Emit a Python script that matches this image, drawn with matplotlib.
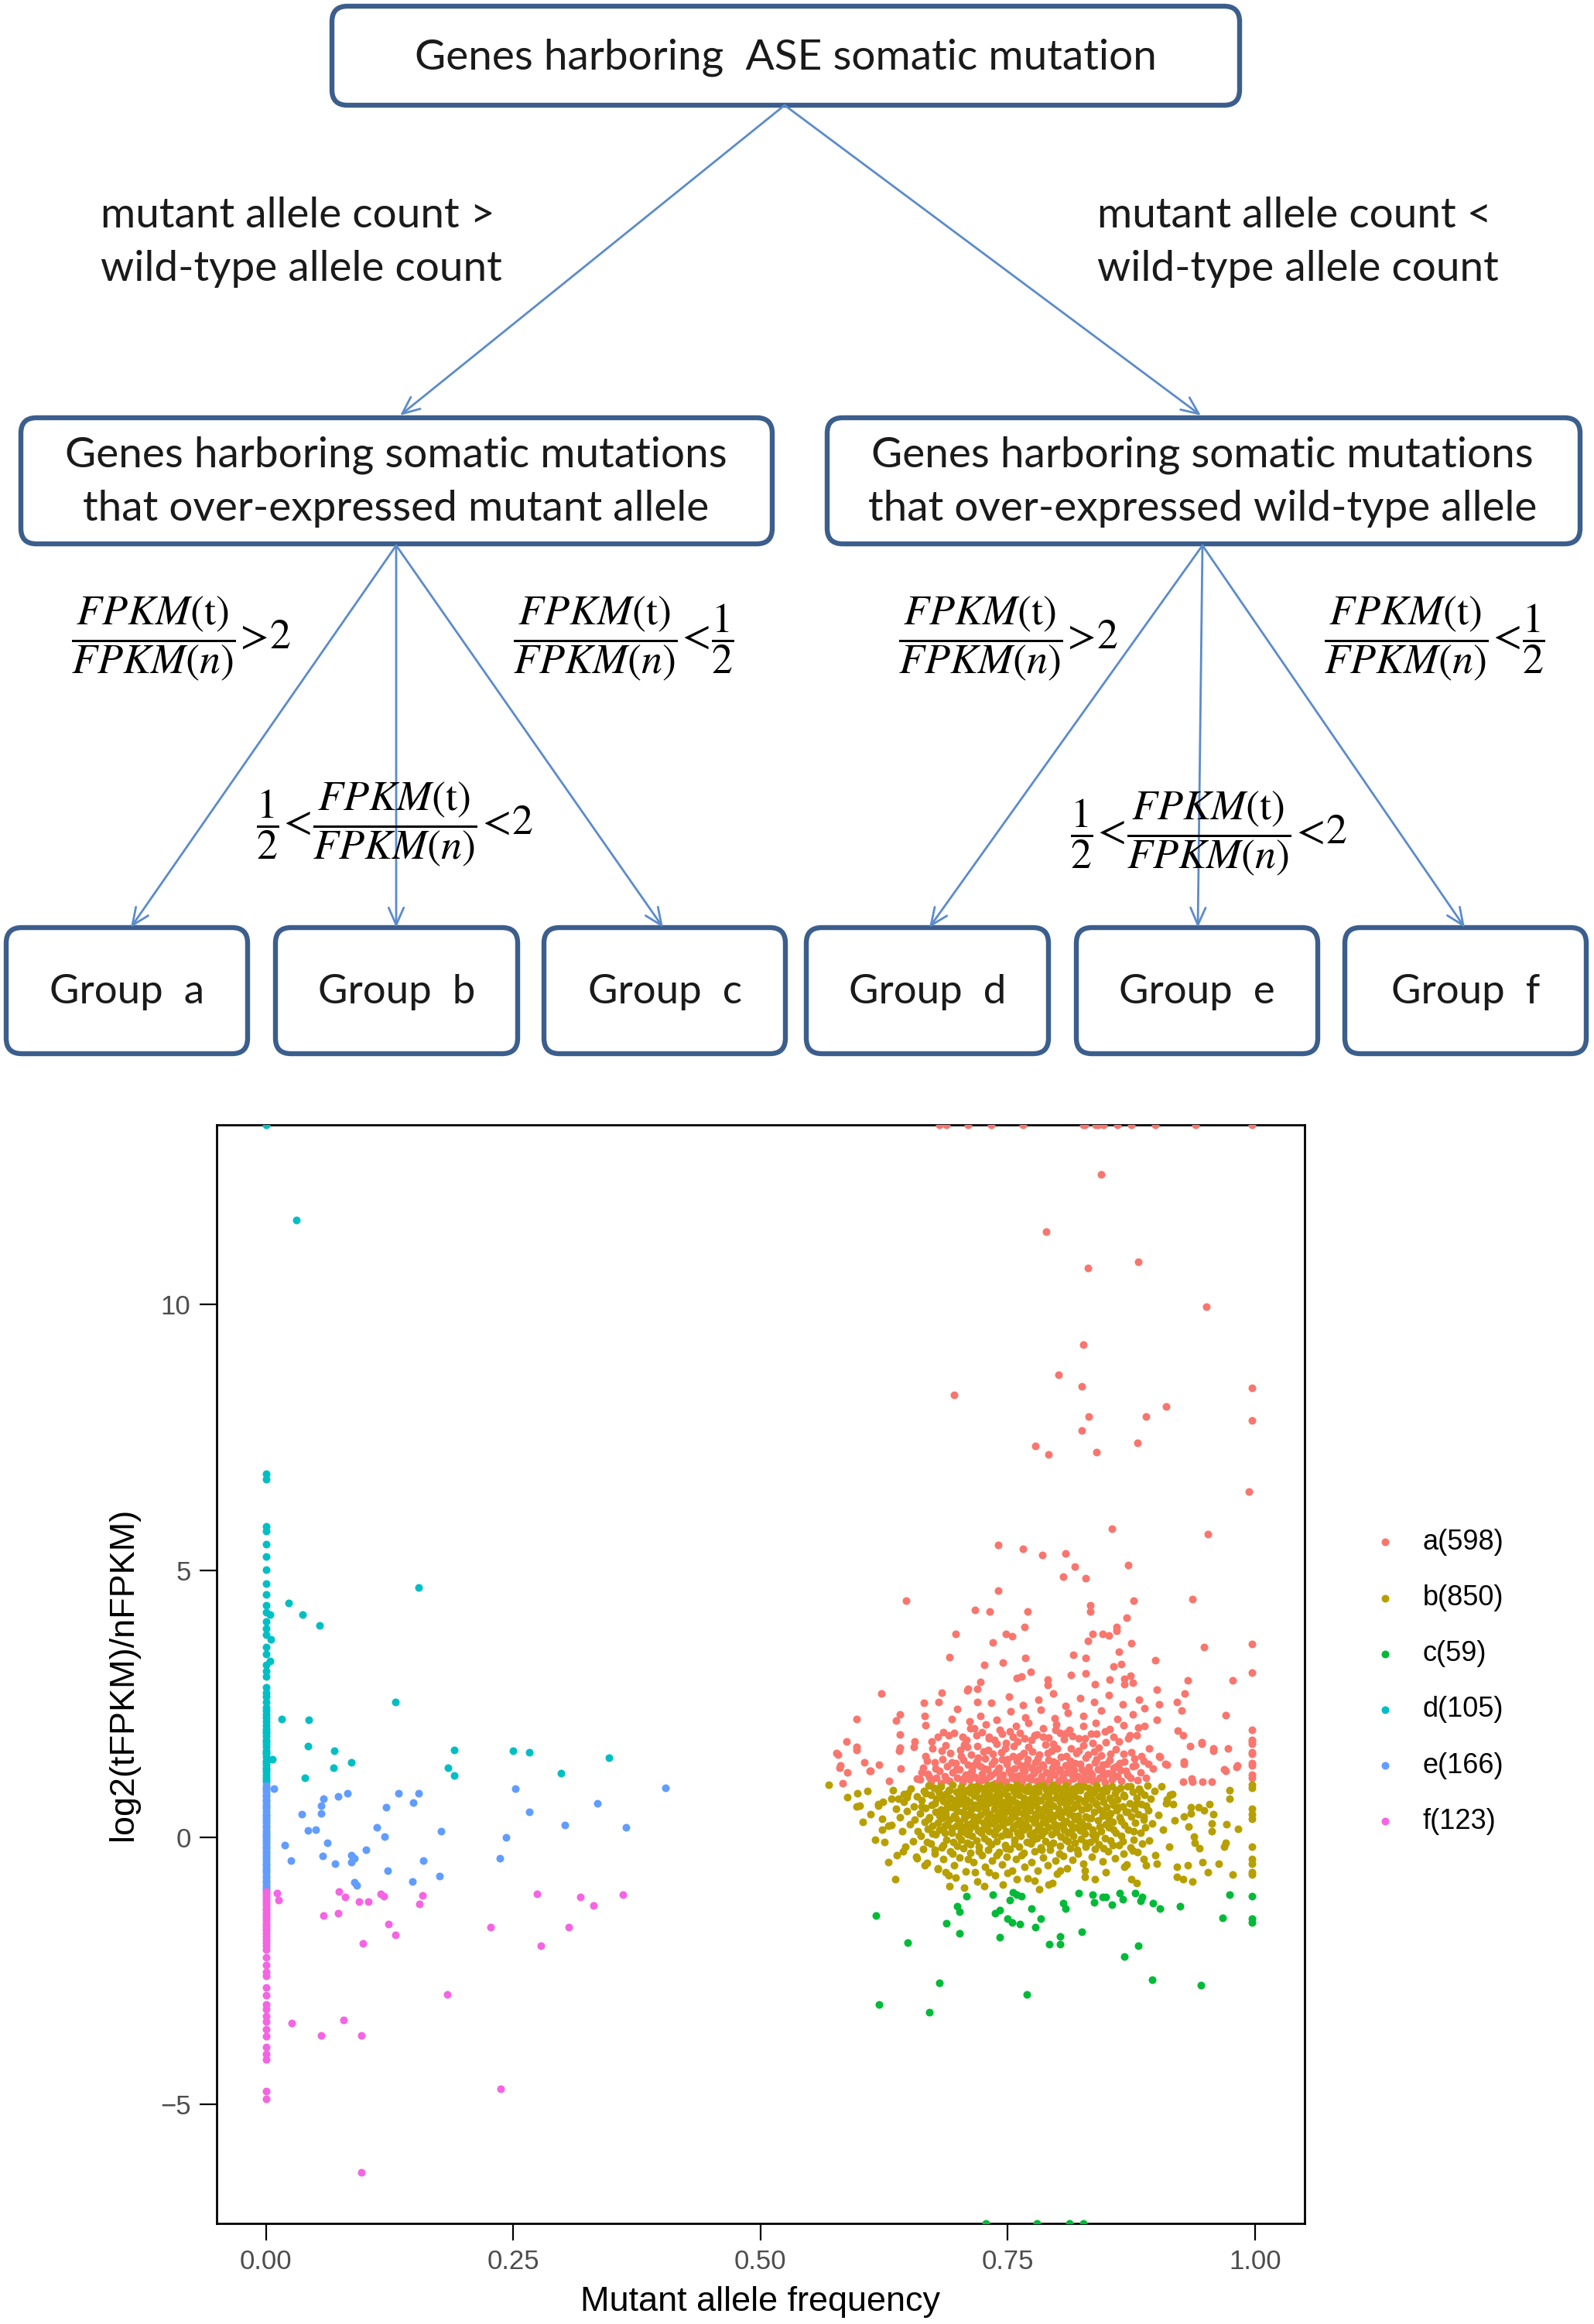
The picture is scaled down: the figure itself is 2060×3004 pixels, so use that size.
import numpy as np
import matplotlib.pyplot as plt
from matplotlib.patches import FancyBboxPatch

plt.rcParams['mathtext.fontset'] = 'stix'

INF = np.inf

groups = ['a', 'b', 'c', 'd', 'e', 'f']
counts = [598, 850, 59, 105, 166, 123]
colors = ['#F8766D', '#B79F00', '#00BA38', '#00BFC4', '#619CFF', '#F564E3']

x_ticks = [0.00, 0.25, 0.50, 0.75, 1.00]
y_ticks = [-5, 0, 5, 10]

# group a: mutant over-expressed, tumour/normal ratio > 2
a_inf_x = [0.681, 0.688, 0.710, 0.733, 0.765, 0.826, 0.828, 0.839, 0.841, 0.847,
           0.861, 0.875, 0.899, 0.940, 0.997]
a_sparse = [(0.844, 12.43), (0.789, 11.36), (0.831, 10.67), (0.882, 10.79), (0.951, 9.95),
            (0.826, 9.24), (0.801, 8.67), (0.696, 8.29), (0.825, 8.45), (0.832, 7.89),
            (0.890, 7.89), (0.910, 8.08), (0.997, 8.43), (0.997, 7.82), (0.825, 7.63),
            (0.778, 7.34), (0.791, 7.18), (0.840, 7.22), (0.881, 7.40), (0.994, 6.48),
            (0.855, 5.79), (0.952, 5.69), (0.740, 5.48), (0.765, 5.41), (0.785, 5.30),
            (0.808, 5.32), (0.818, 5.08), (0.872, 5.11), (0.806, 4.88), (0.829, 4.86),
            (0.740, 4.63), (0.647, 4.43), (0.877, 4.43), (0.937, 4.47), (0.717, 4.26),
            (0.732, 4.23), (0.770, 4.24), (0.833, 4.35), (0.833, 4.23), (0.767, 3.95),
            (0.697, 3.82), (0.748, 3.81), (0.754, 3.77), (0.836, 3.82), (0.846, 3.82),
            (0.852, 3.79), (0.860, 3.94), (0.860, 3.87), (0.870, 4.12), (0.831, 3.68),
            (0.735, 3.66), (0.875, 3.64), (0.997, 3.63), (0.948, 3.56), (0.691, 3.38),
            (0.768, 3.37), (0.816, 3.42), (0.829, 3.37), (0.862, 3.48), (0.899, 3.32),
            (0.726, 3.23), (0.745, 3.28), (0.857, 3.20), (0.865, 3.25), (0.773, 3.10),
            (0.814, 3.05), (0.829, 3.07), (0.997, 3.09), (0.759, 2.98), (0.764, 3.02),
            (0.790, 2.96), (0.853, 2.96), (0.868, 2.97), (0.874, 3.03), (0.876, 2.90),
            (0.868, 2.87), (0.790, 2.85), (0.932, 2.95), (0.977, 2.95), (0.722, 2.91),
            (0.719, 2.79), (0.710, 2.79), (0.838, 2.87), (0.622, 2.70)]
a_edge = [(0.597, 2.22), (0.587, 1.79), (0.578, 1.55), (0.580, 1.30), (0.588, 1.22),
          (0.597, 1.64), (0.605, 1.40), (0.610, 1.24), (0.620, 1.36), (0.637, 2.19),
          (0.641, 2.31), (0.641, 1.93), (0.640, 1.63), (0.656, 1.79), (0.665, 2.52),
          (0.666, 2.27), (0.667, 2.10), (0.680, 2.54), (0.683, 2.71), (0.685, 1.97),
          (0.693, 2.22), (0.699, 2.41), (0.709, 2.75), (0.711, 2.17), (0.719, 2.54),
          (0.901, 2.77), (0.903, 2.50), (0.921, 2.54), (0.926, 2.37), (0.929, 2.69),
          (0.922, 2.00), (0.927, 1.92), (0.934, 1.71), (0.946, 1.75), (0.958, 1.62),
          (0.970, 2.29), (0.973, 1.67), (0.981, 1.32), (0.970, 1.24), (0.997, 2.02),
          (0.997, 1.83), (0.997, 1.75), (0.997, 1.56), (0.997, 1.35), (0.997, 1.12),
          (0.888, 2.42), (0.888, 2.08), (0.901, 2.21), (0.904, 1.50), (0.911, 1.36),
          (0.928, 1.37), (0.937, 1.04), (0.577, 1.58), (0.581, 1.34), (0.583, 1.02),
          (0.597, 1.69), (0.611, 1.25), (0.630, 1.05), (0.641, 1.68), (0.642, 1.29),
          (0.655, 1.70), (0.658, 1.10), (0.928, 1.42), (0.936, 1.10), (0.946, 1.78),
          (0.947, 1.04), (0.956, 1.04), (0.958, 1.66), (0.969, 1.28), (0.982, 1.35),
          (0.997, 1.80), (0.997, 1.60), (0.997, 1.39), (0.997, 1.17), (0.909, 1.37),
          (0.903, 1.52), (0.927, 1.04)]
a_core = [(0.661, 1.08), (0.664, 1.31), (0.667, 1.52), (0.669, 1.19), (0.672, 1.04),
          (0.674, 1.66), (0.676, 1.41), (0.678, 1.12), (0.679, 1.88),
          (0.681, 1.24), (0.682, 1.02), (0.684, 1.47), (0.686, 1.15), (0.687, 1.73),
          (0.689, 1.33), (0.691, 1.06), (0.692, 1.58), (0.694, 1.21), (0.696, 1.95),
          (0.697, 1.39), (0.699, 1.11),
          (0.701, 1.28), (0.702, 1.64), (0.704, 1.03), (0.705, 1.45), (0.707, 1.17),
          (0.708, 1.82), (0.710, 1.36), (0.711, 1.09), (0.713, 1.55), (0.714, 1.25),
          (0.716, 2.04), (0.717, 1.13), (0.718, 1.42), (0.719, 1.71),
          (0.721, 1.05), (0.722, 1.33), (0.724, 1.19), (0.725, 1.61), (0.727, 1.48),
          (0.728, 1.08), (0.729, 1.27), (0.731, 1.89), (0.732, 1.14), (0.734, 1.38),
          (0.735, 1.56), (0.737, 1.02), (0.738, 1.22), (0.739, 1.75),
          (0.741, 1.31), (0.742, 1.10), (0.744, 1.46), (0.745, 1.18), (0.747, 1.66),
          (0.748, 1.04), (0.749, 1.37), (0.751, 1.26), (0.752, 1.98), (0.754, 1.12),
          (0.755, 1.52), (0.757, 1.29), (0.758, 1.07), (0.759, 1.43), (0.760, 1.80),
          (0.761, 1.16), (0.763, 1.35), (0.764, 1.03), (0.766, 1.58), (0.767, 1.24),
          (0.768, 1.11), (0.770, 1.47), (0.771, 1.69), (0.773, 1.08), (0.774, 1.30),
          (0.776, 1.20), (0.777, 1.91), (0.778, 1.40), (0.779, 1.05),
          (0.781, 1.27), (0.782, 1.55), (0.784, 1.14), (0.785, 1.36), (0.787, 1.02),
          (0.788, 1.74), (0.789, 1.22), (0.791, 1.45), (0.792, 1.09), (0.794, 1.62),
          (0.795, 1.31), (0.797, 1.17), (0.798, 2.01), (0.799, 1.39),
          (0.801, 1.06), (0.802, 1.28), (0.804, 1.50), (0.805, 1.13), (0.807, 1.84),
          (0.808, 1.35), (0.810, 1.21), (0.811, 1.03), (0.813, 1.44), (0.814, 1.67),
          (0.816, 1.10), (0.817, 1.26), (0.819, 1.58),
          (0.821, 1.15), (0.823, 1.38), (0.824, 1.04), (0.826, 1.73), (0.827, 1.23),
          (0.829, 1.49), (0.830, 1.09), (0.832, 1.32), (0.834, 1.94), (0.835, 1.18),
          (0.837, 1.61), (0.838, 1.41), (0.839, 1.06),
          (0.841, 1.27), (0.843, 1.12), (0.844, 1.54), (0.846, 1.36), (0.848, 1.03),
          (0.849, 1.78), (0.851, 1.20), (0.853, 1.45), (0.855, 1.09), (0.857, 1.30),
          (0.859, 1.65),
          (0.861, 1.14), (0.863, 1.39), (0.865, 1.05), (0.867, 1.57), (0.869, 1.24),
          (0.872, 1.86), (0.874, 1.11), (0.876, 1.33), (0.878, 1.48),
          (0.881, 1.07), (0.884, 1.22), (0.887, 1.43), (0.890, 1.12), (0.893, 1.66),
          (0.897, 1.29),
          (0.663, 1.22), (0.668, 1.44), (0.671, 1.13), (0.677, 1.29), (0.683, 1.62),
          (0.688, 1.09), (0.693, 1.41), (0.698, 1.27), (0.703, 1.52), (0.706, 1.11),
          (0.709, 1.69), (0.712, 1.20), (0.715, 1.35), (0.720, 1.49), (0.723, 1.07),
          (0.726, 1.29), (0.730, 1.64), (0.733, 1.17), (0.736, 1.44), (0.740, 1.28),
          (0.743, 1.59), (0.746, 1.06), (0.750, 1.47), (0.753, 1.20), (0.756, 1.71),
          (0.759, 1.15), (0.762, 1.52), (0.765, 1.27), (0.769, 1.38), (0.772, 1.13),
          (0.775, 1.61), (0.778, 1.25), (0.780, 1.48), (0.783, 1.07), (0.786, 1.33),
          (0.790, 1.58), (0.793, 1.19), (0.796, 1.42), (0.800, 1.66), (0.803, 1.24),
          (0.806, 1.08), (0.809, 1.52), (0.812, 1.31), (0.815, 1.16), (0.818, 1.39),
          (0.822, 1.62), (0.825, 1.28), (0.828, 1.12), (0.831, 1.55), (0.833, 1.21),
          (0.836, 1.05), (0.840, 1.47), (0.842, 1.68), (0.845, 1.24), (0.847, 1.15),
          (0.850, 1.38), (0.854, 1.57), (0.856, 1.19), (0.860, 1.33), (0.864, 1.26),
          (0.868, 1.42), (0.871, 1.17), (0.875, 1.60), (0.879, 1.35), (0.885, 1.52),
          (0.892, 1.38),
          (0.673, 1.79), (0.690, 1.91), (0.706, 1.74), (0.724, 1.97), (0.736, 1.83),
          (0.748, 1.77), (0.762, 1.95), (0.774, 1.82), (0.786, 1.89), (0.796, 1.76),
          (0.809, 1.96), (0.822, 1.85), (0.836, 1.77), (0.848, 1.99), (0.862, 1.80),
          (0.880, 1.91),
          (0.704, 1.88), (0.718, 1.92), (0.731, 1.86), (0.744, 1.94), (0.755, 1.89),
          (0.767, 1.85), (0.779, 1.93), (0.791, 1.87), (0.803, 1.95), (0.815, 1.90),
          (0.828, 1.86), (0.840, 1.94), (0.857, 1.89), (0.873, 1.92),
          (0.712, 2.05), (0.728, 2.12), (0.742, 2.02), (0.758, 2.09), (0.771, 2.15),
          (0.786, 2.04), (0.799, 2.11), (0.812, 2.01), (0.826, 2.08), (0.839, 2.14),
          (0.853, 2.03), (0.867, 2.10), (0.882, 2.06),
          (0.722, 2.28), (0.739, 2.21), (0.753, 2.36), (0.768, 2.25), (0.783, 2.39),
          (0.797, 2.23), (0.811, 2.33), (0.826, 2.27), (0.844, 2.38), (0.861, 2.22),
          (0.876, 2.31),
          (0.733, 2.52), (0.751, 2.64), (0.765, 2.48), (0.781, 2.58), (0.796, 2.69),
          (0.808, 2.46), (0.823, 2.61), (0.837, 2.53), (0.852, 2.67), (0.866, 2.49),
          (0.883, 2.58)]

# group b: mutant over-expressed, ratio between 1/2 and 2
b_edge = [(0.569, 0.98), (0.588, 0.75), (0.598, 0.82), (0.608, 0.87), (0.597, 0.58),
          (0.600, 0.60), (0.619, 0.62), (0.619, 0.59), (0.623, 0.35), (0.623, 0.14),
          (0.625, -0.09), (0.629, -0.46), (0.636, -0.79), (0.632, 0.72), (0.639, 0.72),
          (0.632, 0.23), (0.637, 0.53), (0.645, 0.81), (0.648, 0.75), (0.644, -0.26),
          (0.658, -0.40), (0.666, -0.53), (0.679, -0.59), (0.687, -0.66), (0.691, -0.92),
          (0.697, -0.76), (0.706, -0.95), (0.710, -0.41), (0.717, -0.66), (0.726, -0.91),
          (0.731, -0.65), (0.745, -0.89), (0.750, -0.67), (0.759, -0.78), (0.777, -0.82),
          (0.782, -0.98), (0.791, -0.89), (0.795, -0.86), (0.803, -0.62), (0.828, -0.74),
          (0.828, -0.62), (0.838, -0.78), (0.849, -0.65), (0.868, -0.56), (0.875, -0.78),
          (0.880, -0.86), (0.890, -0.53), (0.887, -0.41), (0.901, -0.49), (0.921, -0.56),
          (0.921, -0.74), (0.927, -0.78), (0.937, -0.83), (0.932, -0.53), (0.947, -0.46),
          (0.952, -0.66), (0.963, -0.49), (0.977, -0.70), (0.997, -0.17), (0.997, -0.41),
          (0.997, -0.50), (0.997, -0.65), (0.997, -0.70), (0.969, -0.17), (0.970, -0.11),
          (0.983, 0.16), (0.971, 0.24), (0.956, 0.26), (0.956, 0.12), (0.944, -0.20),
          (0.939, -0.11), (0.938, 0.01), (0.933, 0.20), (0.928, 0.39), (0.935, 0.45),
          (0.935, 0.57), (0.943, 0.56), (0.948, 0.50), (0.954, 0.62), (0.958, 0.43),
          (0.997, 0.98), (0.997, 0.92), (0.997, 0.53), (0.997, 0.44), (0.997, 0.35),
          (0.974, 0.89), (0.974, 0.72), (0.917, 0.62), (0.911, 0.71), (0.914, 0.80)]
b_core = [(0.641, 0.37), (0.643, 0.12), (0.645, 0.66), (0.646, -0.18), (0.648, 0.49),
          (0.649, 0.83),
          (0.651, 0.24), (0.652, 0.91), (0.654, -0.07), (0.655, 0.58), (0.656, 0.33),
          (0.657, -0.36), (0.658, 0.76), (0.659, 0.11),
          (0.661, 0.45), (0.662, 0.03), (0.663, 0.69), (0.664, -0.22), (0.665, 0.87),
          (0.666, 0.29), (0.667, 0.55), (0.668, -0.48), (0.669, 0.16), (0.670, 0.97),
          (0.671, 0.38), (0.672, 0.79), (0.672, -0.12), (0.673, 0.61), (0.674, 0.21),
          (0.675, 0.93), (0.676, -0.31), (0.677, 0.47), (0.677, 0.05), (0.678, 0.72),
          (0.679, -0.58), (0.679, 0.27), (0.680, 0.86),
          (0.681, 0.14), (0.682, 0.52), (0.682, 0.95), (0.683, -0.19), (0.684, 0.36),
          (0.685, 0.68), (0.685, -0.41), (0.686, 0.09), (0.687, 0.81), (0.687, 0.43),
          (0.688, -0.04), (0.689, 0.62), (0.689, 0.25), (0.690, -0.72), (0.690, 0.89),
          (0.691, 0.33), (0.692, -0.27), (0.692, 0.74), (0.693, 0.17), (0.694, 0.56),
          (0.694, 0.98), (0.695, -0.09), (0.696, 0.41), (0.696, -0.53), (0.697, 0.65),
          (0.698, 0.22), (0.698, 0.85), (0.699, -0.16), (0.699, 0.49), (0.700, 0.02),
          (0.700, 0.77),
          (0.701, 0.29), (0.701, -0.38), (0.702, 0.63), (0.703, 0.94), (0.703, 0.11),
          (0.704, 0.47), (0.705, -0.21), (0.705, 0.82), (0.706, 0.36), (0.707, -0.64),
          (0.707, 0.58), (0.708, 0.07), (0.708, 0.71), (0.709, 0.24), (0.709, -0.11),
          (0.710, 0.90), (0.710, 0.44),
          (0.711, 0.16), (0.711, 0.67), (0.712, -0.29), (0.713, 0.52), (0.713, 0.96),
          (0.714, 0.03), (0.715, 0.39), (0.715, -0.47), (0.716, 0.78), (0.717, 0.21),
          (0.717, 0.61), (0.718, -0.06), (0.718, 0.87), (0.719, 0.32), (0.719, -0.83),
          (0.720, 0.55), (0.720, 0.13),
          (0.721, 0.74), (0.721, -0.17), (0.722, 0.42), (0.723, 0.92), (0.723, 0.08),
          (0.724, 0.59), (0.724, -0.34), (0.725, 0.27), (0.726, 0.81), (0.726, -0.02),
          (0.727, 0.48), (0.727, -0.56), (0.728, 0.69), (0.728, 0.18), (0.729, 0.97),
          (0.729, 0.35), (0.730, -0.24), (0.730, 0.63),
          (0.731, 0.11), (0.731, 0.86), (0.732, 0.44), (0.733, -0.13), (0.733, 0.67),
          (0.734, 0.26), (0.734, -0.43), (0.735, 0.93), (0.736, 0.53), (0.736, 0.05),
          (0.737, 0.76), (0.737, -0.71), (0.738, 0.31), (0.738, 0.61), (0.739, -0.08),
          (0.739, 0.89), (0.740, 0.19), (0.740, 0.46),
          (0.741, -0.28), (0.741, 0.72), (0.742, 0.37), (0.742, 0.97), (0.743, 0.02),
          (0.744, 0.57), (0.744, -0.51), (0.745, 0.23), (0.745, 0.83), (0.746, 0.41),
          (0.747, -0.15), (0.747, 0.66), (0.748, 0.12), (0.748, 0.91), (0.749, 0.49),
          (0.749, -0.36), (0.750, 0.29), (0.750, 0.78),
          (0.751, 0.06), (0.751, 0.59), (0.752, -0.22), (0.753, 0.94), (0.753, 0.34),
          (0.754, 0.71), (0.754, -0.62), (0.755, 0.17), (0.756, 0.52), (0.756, 0.87),
          (0.757, -0.04), (0.757, 0.39), (0.758, 0.65), (0.758, -0.41), (0.759, 0.24),
          (0.759, 0.99), (0.760, 0.47), (0.760, 0.09),
          (0.761, 0.79), (0.761, -0.18), (0.762, 0.31), (0.763, 0.62), (0.763, 0.03),
          (0.764, 0.92), (0.764, -0.33), (0.765, 0.45), (0.766, 0.14), (0.766, 0.74),
          (0.767, -0.55), (0.767, 0.56), (0.768, 0.26), (0.768, 0.88), (0.769, -0.09),
          (0.769, 0.38), (0.770, 0.68), (0.770, -0.77),
          (0.771, 0.19), (0.771, 0.96), (0.772, 0.51), (0.773, -0.12), (0.773, 0.73),
          (0.774, 0.35), (0.774, -0.46), (0.775, 0.84), (0.776, 0.08), (0.776, 0.61),
          (0.777, 0.27), (0.777, -0.27), (0.778, 0.92), (0.778, 0.43), (0.779, -0.01),
          (0.779, 0.66), (0.780, 0.15), (0.780, -0.63),
          (0.781, 0.54), (0.781, 0.86), (0.782, 0.22), (0.783, -0.19), (0.783, 0.69),
          (0.784, 0.04), (0.784, 0.41), (0.785, 0.97), (0.786, -0.38), (0.786, 0.29),
          (0.787, 0.77), (0.787, 0.12), (0.788, -0.07), (0.788, 0.58), (0.789, 0.90),
          (0.789, 0.36), (0.790, -0.52), (0.790, 0.64),
          (0.791, 0.18), (0.791, 0.81), (0.792, 0.47), (0.793, -0.24), (0.793, 0.71),
          (0.794, 0.06), (0.794, 0.95), (0.795, 0.33), (0.796, -0.11), (0.796, 0.59),
          (0.797, 0.25), (0.797, 0.87), (0.798, -0.44), (0.798, 0.42), (0.799, 0.10),
          (0.799, 0.74), (0.800, -0.68),
          (0.801, 0.53), (0.801, 0.93), (0.802, 0.21), (0.803, -0.16), (0.803, 0.66),
          (0.804, 0.37), (0.804, 0.01), (0.805, 0.82), (0.806, -0.35), (0.806, 0.48),
          (0.807, 0.15), (0.807, 0.72), (0.808, -0.05), (0.808, 0.97), (0.809, 0.30),
          (0.809, 0.60), (0.810, -0.58),
          (0.811, 0.09), (0.811, 0.85), (0.812, 0.44), (0.813, -0.21), (0.813, 0.68),
          (0.814, 0.24), (0.815, 0.91), (0.815, -0.42), (0.816, 0.55), (0.816, 0.03),
          (0.817, 0.76), (0.818, 0.35), (0.818, -0.10), (0.819, 0.62), (0.819, 0.18),
          (0.820, 0.95),
          (0.821, 0.41), (0.821, -0.30), (0.822, 0.73), (0.823, 0.13), (0.823, 0.88),
          (0.824, -0.03), (0.825, 0.52), (0.825, 0.27), (0.826, -0.49), (0.827, 0.66),
          (0.827, 0.96), (0.828, 0.07), (0.829, 0.39), (0.829, -0.18), (0.830, 0.80),
          (0.831, 0.22), (0.832, 0.58), (0.832, 0.92), (0.833, -0.09), (0.834, 0.36),
          (0.835, 0.71), (0.835, -0.37), (0.836, 0.14), (0.837, 0.84), (0.837, 0.47),
          (0.838, -0.22), (0.839, 0.63), (0.839, 0.04), (0.840, 0.97),
          (0.841, 0.31), (0.842, 0.77), (0.842, -0.13), (0.843, 0.52), (0.844, 0.11),
          (0.845, 0.89), (0.846, -0.45), (0.846, 0.40), (0.847, 0.66), (0.848, -0.02),
          (0.849, 0.24), (0.849, 0.93), (0.850, 0.57),
          (0.851, -0.27), (0.852, 0.18), (0.853, 0.74), (0.854, 0.45), (0.854, -0.06),
          (0.855, 0.96), (0.856, 0.29), (0.857, 0.61), (0.858, -0.39), (0.858, 0.83),
          (0.859, 0.08), (0.860, 0.50),
          (0.861, 0.71), (0.862, -0.14), (0.863, 0.37), (0.864, 0.92), (0.865, 0.02),
          (0.866, 0.58), (0.867, -0.31), (0.867, 0.80), (0.868, 0.23), (0.869, 0.47),
          (0.870, -0.51),
          (0.871, 0.95), (0.872, 0.14), (0.873, 0.64), (0.874, -0.19), (0.875, 0.39),
          (0.876, 0.85), (0.877, -0.04), (0.878, 0.53), (0.879, 0.27), (0.880, 0.74),
          (0.881, -0.28), (0.882, 0.44), (0.883, 0.91), (0.884, 0.08), (0.885, 0.62),
          (0.886, -0.12), (0.887, 0.33), (0.888, 0.79), (0.889, 0.19),
          (0.891, 0.97), (0.892, 0.51), (0.893, -0.06), (0.894, 0.72), (0.896, 0.26),
          (0.898, 0.87), (0.899, -0.33),
          (0.902, 0.42), (0.905, 0.95), (0.907, 0.14), (0.910, 0.63), (0.913, -0.18),
          (0.916, 0.81), (0.919, 0.31),
          (0.603, 0.29), (0.611, 0.44), (0.616, -0.05), (0.624, 0.67), (0.629, 0.21),
          (0.634, 0.88), (0.638, -0.33),
          (0.663, 0.58), (0.667, 0.83), (0.670, 0.34), (0.674, 0.07), (0.676, 0.64),
          (0.679, 0.91), (0.681, 0.40), (0.684, 0.75), (0.686, 0.21), (0.688, 0.53),
          (0.691, 0.88), (0.693, 0.09), (0.695, 0.70), (0.697, 0.36), (0.699, 0.61),
          (0.702, 0.83), (0.704, 0.18), (0.706, 0.69), (0.708, 0.40), (0.710, 0.06),
          (0.712, 0.84), (0.714, 0.28), (0.716, 0.57), (0.718, 0.95), (0.720, 0.37),
          (0.722, 0.63), (0.724, 0.14), (0.726, 0.88), (0.728, 0.52), (0.730, 0.24),
          (0.732, 0.75), (0.734, 0.98), (0.736, 0.38), (0.738, 0.15), (0.740, 0.66),
          (0.742, 0.84), (0.744, 0.30), (0.746, 0.53), (0.748, 0.06), (0.750, 0.94),
          (0.752, 0.69), (0.754, 0.44), (0.756, 0.21), (0.758, 0.81), (0.760, 0.57),
          (0.762, 0.93), (0.764, 0.19), (0.766, 0.64), (0.768, 0.42), (0.770, 0.87),
          (0.772, 0.05), (0.774, 0.59), (0.776, 0.80), (0.778, 0.33), (0.780, 0.71),
          (0.782, 0.95), (0.784, 0.13), (0.786, 0.49), (0.788, 0.27), (0.790, 0.85),
          (0.792, 0.62), (0.794, 0.38), (0.796, 0.99), (0.798, 0.17), (0.800, 0.77),
          (0.802, 0.44), (0.804, 0.90), (0.806, 0.25), (0.808, 0.63), (0.810, 0.49),
          (0.812, 0.79), (0.814, 0.11), (0.816, 0.41), (0.818, 0.86), (0.820, 0.60),
          (0.822, 0.31), (0.824, 0.95), (0.826, 0.17), (0.828, 0.70), (0.830, 0.55),
          (0.832, 0.36), (0.834, 0.82), (0.836, 0.06), (0.838, 0.90), (0.840, 0.62),
          (0.843, 0.20), (0.845, 0.76), (0.847, 0.45), (0.850, 0.87), (0.852, 0.35),
          (0.855, 0.68), (0.857, 0.14), (0.860, 0.89), (0.862, 0.56), (0.865, 0.30),
          (0.868, 0.77), (0.871, 0.48), (0.874, 0.95), (0.877, 0.11), (0.880, 0.64),
          (0.884, 0.86), (0.887, 0.39), (0.890, 0.60),
          (0.668, -0.09), (0.676, -0.24), (0.685, -0.15), (0.694, -0.30), (0.703, -0.04),
          (0.712, -0.13), (0.721, -0.26), (0.730, -0.07), (0.739, -0.33), (0.748, -0.20),
          (0.757, -0.12), (0.766, -0.29), (0.775, -0.06), (0.784, -0.23), (0.793, -0.15),
          (0.802, -0.31), (0.811, -0.08), (0.820, -0.24), (0.829, -0.11), (0.838, -0.03),
          (0.847, -0.20), (0.856, -0.14), (0.866, -0.07), (0.876, -0.25)]

# group c: mutant over-expressed, ratio < 1/2
c_pts = [(0.617, -1.47), (0.620, -3.13), (0.649, -1.98), (0.671, -3.28), (0.681, -2.73),
         (0.688, -1.61), (0.699, -1.30), (0.701, -1.39), (0.701, -1.80), (0.708, -1.10),
         (0.735, -1.07), (0.737, -1.42), (0.742, -1.36), (0.742, -1.88), (0.750, -1.53),
         (0.754, -1.60), (0.752, -1.18), (0.755, -1.03), (0.759, -1.07), (0.764, -1.10),
         (0.762, -1.63), (0.774, -1.34), (0.778, -1.69), (0.783, -1.52), (0.769, -2.94),
         (0.792, -2.01), (0.803, -1.86), (0.803, -2.00), (0.806, -1.23), (0.808, -1.33),
         (0.822, -1.04), (0.825, -1.77), (0.836, -1.08), (0.837, -1.22), (0.846, -1.12),
         (0.849, -1.12), (0.855, -1.27), (0.863, -1.05), (0.866, -1.16), (0.868, -2.23),
         (0.879, -1.04), (0.882, -2.03), (0.884, -1.19), (0.886, -1.12), (0.896, -2.67),
         (0.897, -1.23), (0.904, -1.34), (0.924, -1.30), (0.945, -2.78), (0.967, -1.51),
         (0.974, -1.08), (0.997, -1.11), (0.997, -1.52), (0.997, -1.60),
         (0.728, -INF), (0.779, -INF), (0.812, -INF), (0.826, -INF)]

# group d: wild-type over-expressed, ratio > 2
d_zero_y = [6.82, 6.71, 5.83, 5.74, 5.50, 5.27, 5.02, 4.76, 4.55, 4.35, 4.22, 4.05, 3.91,
            3.80, 3.56, 3.43, 3.23, 3.12, 3.01, 2.81, 2.71, 2.64, 2.54, 2.44, 2.37, 2.30,
            2.24, 2.17, 2.10, 2.03, 1.98, 1.95, 1.90, 1.83, 1.80, 1.76, 1.70, 1.63, 1.59,
            1.56, 1.50, 1.44, 1.40, 1.36, 1.30, 1.27, 1.23, 1.17, 1.13, 1.09, 1.04, INF]
d_pts = [(0.031, 11.58), (0.154, 4.68), (0.023, 4.40), (0.037, 4.18), (0.054, 3.98),
         (0.004, 4.18), (0.005, 3.71), (0.004, 3.31), (0.131, 2.53), (0.016, 2.22),
         (0.043, 2.20), (0.042, 1.71), (0.069, 1.63), (0.190, 1.64), (0.250, 1.62),
         (0.266, 1.60), (0.347, 1.49), (0.006, 1.46), (0.086, 1.41), (0.068, 1.30),
         (0.184, 1.30), (0.190, 1.16), (0.298, 1.20), (0.039, 1.12)]

# group e: wild-type over-expressed, ratio between 1/2 and 2
e_zero_y = [0.97, 0.92, 0.90, 0.85, 0.80, 0.77, 0.71, 0.68, 0.62, 0.58, 0.55, 0.49, 0.44,
            0.41, 0.36, 0.31, 0.27, 0.22, 0.18, 0.13, 0.09, 0.04, 0.01, -0.03, -0.08,
            -0.12, -0.17, -0.21, -0.26, -0.31, -0.35, -0.39, -0.44, -0.50, -0.53, -0.58,
            -0.63, -0.66, -0.72, -0.76, -0.81, -0.85, -0.90, -0.94, -0.99]
e_pts = [(0.008, 0.91), (0.019, -0.15), (0.025, -0.43), (0.036, 0.43), (0.042, 0.13),
         (0.050, 0.14), (0.056, 0.59), (0.056, 0.45), (0.058, 0.72), (0.062, -0.11),
         (0.057, -0.35), (0.070, -0.49), (0.073, 0.76), (0.082, 0.82), (0.086, -0.34),
         (0.086, -0.46), (0.089, -0.40), (0.089, -0.85), (0.092, -0.90), (0.101, -0.23),
         (0.112, 0.19), (0.120, 0.01), (0.121, 0.56), (0.123, -0.62), (0.134, 0.83),
         (0.149, 0.65), (0.154, 0.83), (0.159, -0.44), (0.148, -0.83), (0.175, -0.73),
         (0.177, 0.12), (0.236, -0.40), (0.243, 0.00), (0.252, 0.91), (0.266, 0.48),
         (0.302, 0.23), (0.335, 0.64), (0.364, 0.19), (0.404, 0.92)]

# group f: wild-type over-expressed, ratio < 1/2
f_zero_y = [-1.02, -1.06, -1.10, -1.15, -1.19, -1.24, -1.28, -1.33, -1.37, -1.42, -1.47,
            -1.51, -1.56, -1.61, -1.66, -1.70, -1.75, -1.80, -1.86, -1.91, -1.97, -2.03,
            -2.10, -2.25, -2.39, -2.52, -2.60, -2.82, -2.96, -3.13, -3.22, -3.35, -3.46,
            -3.60, -3.73, -3.93, -4.07, -4.16, -4.76, -4.91]
f_pts = [(0.011, -1.04), (0.013, -1.18), (0.026, -3.49), (0.056, -3.72), (0.058, -1.46),
         (0.073, -1.42), (0.074, -1.02), (0.078, -3.43), (0.080, -1.12), (0.094, -1.20),
         (0.096, -3.72), (0.098, -1.99), (0.103, -1.20), (0.096, -6.29), (0.116, -1.06),
         (0.119, -1.10), (0.124, -1.62), (0.131, -1.83), (0.155, -1.25), (0.158, -1.09),
         (0.183, -2.94), (0.227, -1.69), (0.237, -4.71), (0.274, -1.06), (0.278, -2.03),
         (0.306, -1.68), (0.318, -1.12), (0.331, -1.28), (0.361, -1.07)]

YLIM = (-7.24, 13.36)
XLIM = (-0.05, 1.05)


def as_xy(pts):
    arr = np.array(pts, dtype=float)
    return arr[:, 0], arr[:, 1]


def zero_col(vals):
    y = np.array(vals, dtype=float)
    return np.zeros_like(y), y


series = {
    'a': [as_xy(a_core), as_xy(a_edge), as_xy(a_sparse),
          (np.array(a_inf_x), np.full(len(a_inf_x), INF))],
    'b': [as_xy(b_core), as_xy(b_edge)],
    'c': [as_xy(c_pts)],
    'd': [zero_col(d_zero_y), as_xy(d_pts)],
    'e': [zero_col(e_zero_y), as_xy(e_pts)],
    'f': [zero_col(f_zero_y), as_xy(f_pts)],
}

fig = plt.figure(figsize=(10.3, 15.02), dpi=200)

# ---- flow chart drawn in pixel coordinates ----
fc = fig.add_axes([0, 0, 1, 1])
fc.set_xlim(0, 2060)
fc.set_ylim(3004, 0)
fc.axis('off')

box_edge = '#3B5E8C'
arrow_col = '#5B8BCB'
txt_col = '#1A1A1A'
flow_font = 'Lato'
tsz = 19.8


def box(x0, y0, x1, y1):
    p = FancyBboxPatch((x0, y0), x1 - x0, y1 - y0,
                       boxstyle='round,pad=0,rounding_size=20',
                       fc='white', ec=box_edge, lw=2.3)
    fc.add_patch(p)


def arrow(p0, p1):
    fc.annotate('', xy=p1, xytext=p0,
                arrowprops=dict(arrowstyle='->,head_length=0.8,head_width=0.35',
                                color=arrow_col, lw=1.0, shrinkA=0, shrinkB=0))


box(429, 8, 1602, 136)
fc.text(1015, 74, 'Genes harboring  ASE somatic mutation', ha='center', va='center',
        fontsize=tsz, family=flow_font, color=txt_col)

fc.text(130, 278, 'mutant allele count >', ha='left', va='center',
        fontsize=tsz, family=flow_font, color=txt_col)
fc.text(130, 347, 'wild-type allele count', ha='left', va='center',
        fontsize=tsz, family=flow_font, color=txt_col)
fc.text(1418, 278, 'mutant allele count <', ha='left', va='center',
        fontsize=tsz, family=flow_font, color=txt_col)
fc.text(1418, 347, 'wild-type allele count', ha='left', va='center',
        fontsize=tsz, family=flow_font, color=txt_col)

arrow((1014, 136), (517, 537))
arrow((1014, 136), (1552, 537))

box(27, 540, 998, 703)
box(1069, 540, 2042, 703)
fc.text(512, 588, 'Genes harboring somatic mutations', ha='center', va='center',
        fontsize=tsz, family=flow_font, color=txt_col)
fc.text(512, 657, 'that over-expressed mutant allele', ha='center', va='center',
        fontsize=tsz, family=flow_font, color=txt_col)
fc.text(1554, 588, 'Genes harboring somatic mutations', ha='center', va='center',
        fontsize=tsz, family=flow_font, color=txt_col)
fc.text(1554, 657, 'that over-expressed wild-type allele', ha='center', va='center',
        fontsize=tsz, family=flow_font, color=txt_col)

group_boxes = [(8, 320), (356, 669), (703, 1015), (1042, 1355), (1391, 1703), (1738, 2050)]
arrow_ends = [169, 512, 857, 1201, 1548, 1893]
for i, (gx0, gx1) in enumerate(group_boxes):
    src = (512, 705) if i < 3 else (1554, 705)
    arrow(src, (arrow_ends[i], 1199))

for (gx0, gx1), g in zip(group_boxes, groups):
    box(gx0, 1199, gx1, 1362)
    fc.text((gx0 + gx1) / 2, 1282, 'Group  ' + g, ha='center', va='center',
            fontsize=19, family=flow_font, color=txt_col)

frac = r'\dfrac{FPKM(\mathrm{t})}{FPKM(n)}'
half = r'\dfrac{1}{2}'
lt = r'\!<\!'
gt = r'\!>\!'
fsz = 19.5
fc.text(92, 826, '$' + frac + gt + '2$', ha='left', va='center', fontsize=fsz, color='black')
fc.text(663, 826, '$' + frac + lt + half + '$', ha='left', va='center', fontsize=fsz,
        color='black')
fc.text(331, 1066, '$' + half + lt + frac + lt + '2$', ha='left', va='center', fontsize=fsz,
        color='black')
fc.text(1161, 826, '$' + frac + gt + '2$', ha='left', va='center', fontsize=fsz, color='black')
fc.text(1711, 826, '$' + frac + lt + half + '$', ha='left', va='center', fontsize=fsz,
        color='black')
fc.text(1383, 1078, '$' + half + lt + frac + lt + '2$', ha='left', va='center', fontsize=fsz,
        color='black')

# ---- scatter panel ----
ax = fig.add_axes([0.1359, 0.0433, 0.6825, 0.4727])
ax.set_facecolor('white')
for g, col, n in zip(groups, colors, counts):
    first = True
    for xs, ys in series[g]:
        ys = np.clip(ys, YLIM[0], YLIM[1])
        ax.scatter(xs, ys, s=13, color=col, linewidths=0,
                   label=f'{g}({n})' if first else None, zorder=3)
        first = False

ax.set_xlim(*XLIM)
ax.set_ylim(*YLIM)
ax.set_xticks(x_ticks)
ax.set_xticklabels([f'{v:.2f}' for v in x_ticks])
ax.set_yticks(y_ticks)
for sp in ax.spines.values():
    sp.set_color('black')
    sp.set_linewidth(1.0)
ax.tick_params(axis='both', direction='out', length=8, width=0.8, color='black',
               labelcolor='#4D4D4D', labelsize=12.5, pad=4)
for lab in ax.get_xticklabels() + ax.get_yticklabels():
    lab.set_family(['Liberation Sans', 'DejaVu Sans'])

ax.set_xlabel('Mutant allele frequency', fontsize=16.2, family='Liberation Sans')
ax.set_ylabel('log2(tFPKM)/nFPKM)', fontsize=16.2, family='Liberation Sans')
ax.xaxis.label.set_va('center')
ax.yaxis.label.set_va('center')
ax.xaxis.set_label_coords(0.5, -0.0718)
ax.yaxis.set_label_coords(-0.086, 0.5)

leg = ax.legend(loc='center left', bbox_to_anchor=(1.061, 0.493), frameon=False,
                prop={'family': 'Liberation Sans', 'size': 13}, handlelength=1.0,
                handletextpad=0.86, labelspacing=1.03, borderaxespad=0, borderpad=0,
                scatterpoints=1, markerscale=1.0)

fig.savefig('out.png', dpi=200, facecolor='white')
